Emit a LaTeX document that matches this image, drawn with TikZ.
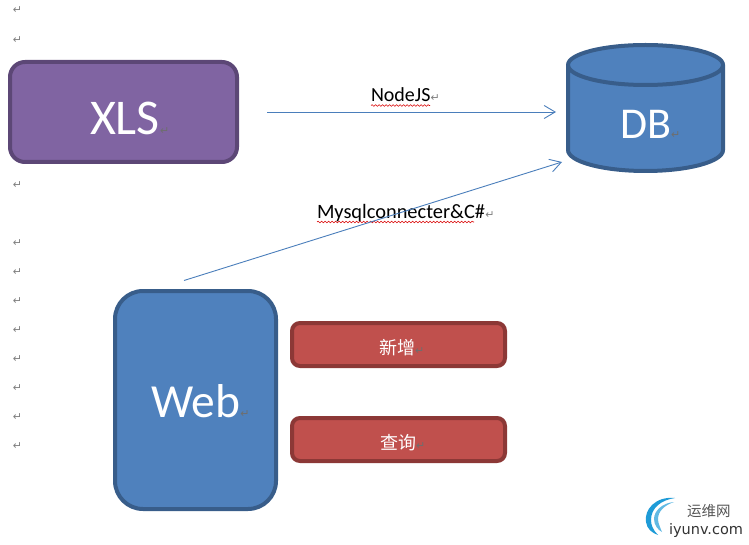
\documentclass[tikz,border=0pt]{standalone}
\usepackage{fontspec}
\setmainfont{Carlito}
\newfontfamily\cjk{Noto Sans CJK SC}
\newfontfamily\djv{DejaVu Sans}
\usetikzlibrary{arrows.meta,decorations.pathmorphing}
\definecolor{purpF}{HTML}{8064A2}
\definecolor{purpD}{HTML}{5C4776}
\definecolor{blueF}{HTML}{4F81BD}
\definecolor{blueD}{HTML}{385D8A}
\definecolor{redF}{HTML}{C0504D}
\definecolor{redD}{HTML}{8C3836}
\definecolor{lineB}{HTML}{4A7EBB}
\definecolor{markG}{HTML}{808080}
\definecolor{markI}{HTML}{6E6E6E}
\definecolor{logoB}{HTML}{1E9BD7}
\definecolor{logoT}{HTML}{555555}
\tikzset{
  box/.style={draw,line width=4pt,rounded corners=#1,inner sep=0pt},
  txt/.style={anchor=base west,inner sep=0pt,outer sep=0pt},
  bigw/.style={txt,text=white,font=\fontsize{#1}{60}\selectfont},
  cjkw/.style={txt,text=white,font=\cjk\fontsize{18}{22}\selectfont},
  lab/.style={txt,text=black,font=\fontsize{#1}{24}\selectfont},
  pmark/.style={anchor=center,inner sep=0pt,text=markG,font=\djv\fontsize{11}{12}\selectfont},
  imark/.style={pmark,anchor=base west,text=markI},
  conn/.style={lineB,line width=0.9pt,-{Straight Barb[length=11pt,width=13pt,line width=0.9pt]}},
  squig/.style={red!85!black,line width=0.6pt,decorate,decoration={snake,amplitude=0.8pt,segment length=3.5pt}}
}
\begin{document}
\begin{tikzpicture}[x=1pt,y=-1pt]
\useasboundingbox (0,0) rectangle (749,545);
% paragraph marks
\foreach \i/\yy in {a/10,b/40,c/185,d/243,e/272,f/301,g/330,h/359,i/388,j/417,k/446}
  \node[pmark] (pm\i) at (17.5,\yy) {↵};
% shapes
\node[box=15pt,fill=purpF,draw=purpD,minimum width=227pt,minimum height=100pt] (xls) at (123.5,112) {};
\node[box=28pt,fill=blueF,draw=blueD,minimum width=161pt,minimum height=218pt] (web) at (195.5,400) {};
\node[box=8pt,fill=redF,draw=redD,minimum width=213pt,minimum height=43pt] (add) at (398.5,344.5) {};
\node[box=8pt,fill=redF,draw=redD,minimum width=213pt,minimum height=43pt] (qry) at (398.5,439.5) {};
% cylinder
\draw[fill=blueF,draw=blueD,line width=4pt] (568,65) -- (568,150) arc[start angle=180,end angle=360,x radius=77.5pt,y radius=21pt] -- (723,65) arc[start angle=0,end angle=180,x radius=77.5pt,y radius=20pt] -- cycle;
\draw[blueD,line width=4pt] (568,65) arc[start angle=180,end angle=360,x radius=77.5pt,y radius=20pt];
% labels
\node[bigw=50] (xlst) at (90,135) {XLS};
\node[bigw=44] (dbt) at (620,138.5) {DB};
\node[bigw=47.5] (webt) at (151,417) {Web};
\node[cjkw] (addt) at (379,354) {新增};
\node[cjkw] (qryt) at (380,449) {查询};
\node[lab=20] (nodejs) at (371,102) {NodeJS};
\node[lab=20.4] (mysql) at (317,218.5) {Mysqlconnecter\&C\#};
% trailing marks
\node[imark] (pmx) at (xlst.base east) {↵};
\node[imark] (pmy) at (dbt.base east) {↵};
\node[imark] (pmz) at (webt.base east) {↵};
\node[imark] (pmu) at (addt.base east) {↵};
\node[imark] (pmv) at (qryt.base east) {↵};
\node[pmark,anchor=base west] (pmn) at (nodejs.base east) {↵};
\node[pmark,anchor=base west] (pmm) at (mysql.base east) {↵};
% spelling squiggles
\draw[squig] (nodejs.base west)++(0,3.5) -- ++(59,0);
\draw[squig] (mysql.base west)++(0,3.5) -- ++(157,0);
% connectors
\coordinate (c1s) at (267,112);
\coordinate (c1e) at (556,112);
\coordinate (c2s) at (184,280.5);
\coordinate (c2e) at (562,162);
\draw[conn] (c1s) -- (c1e);
\draw[conn] (c2s) -- (c2e);
% logo
\fill[logoB] (675,498) .. controls (655,496) and (644,510) .. (646,522) .. controls (647,529) and (652,533) .. (658,535) .. controls (653,530) and (651,525) .. (651,520) .. controls (651,508) and (661,500) .. (675,498) -- cycle;
\fill[logoB!70] (674,502) .. controls (662,503) and (654,511) .. (654,519) .. controls (654,525) and (658,530) .. (662,532) .. controls (660,527) and (658,523) .. (658,519) .. controls (658,511) and (665,505) .. (674,502) -- cycle;
\node[txt,text=logoT,font=\cjk\fontsize{14.5}{16}\selectfont] (lg1) at (687,516) {运维网};
\node[txt,text=logoT!60!black,font=\djv\fontsize{14.5}{16}\selectfont] (lg2) at (669,534) {iyunv.com};
\end{tikzpicture}
\end{document}
